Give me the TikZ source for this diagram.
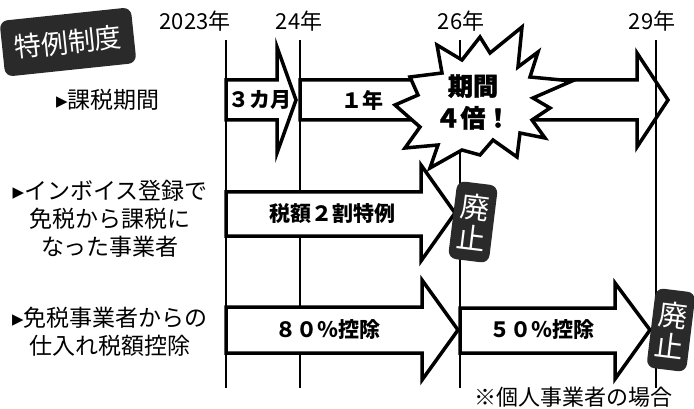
\documentclass[tikz,border=0pt]{standalone}
\usepackage{fontspec}
\setmainfont{Noto Sans CJK JP}
\newfontfamily\symfont{DejaVu Sans}
\definecolor{badgegray}{HTML}{2A2A2A}

\begin{document}
\begin{tikzpicture}[x=1pt,y=-1pt,
    yearlabel/.style={font=\fontsize{22}{22}\selectfont},
    timeline/.style={line width=1.5pt},
    bigarrow/.style={draw,fill=white,line width=3.5pt},
    arrowtext/.style={font=\bfseries\fontsize{21}{21}\selectfont},
    rowlabel/.style={align=center,font=\fontsize{23}{28}\selectfont},
    badge/.style={fill=badgegray,rounded corners=8pt,text=white,inner sep=0pt,align=center}]
  \useasboundingbox (0,0) rectangle (694,409);

  %% years
  \node[yearlabel] (y2023) at (195,21) {2023年};
  \node[yearlabel] (y24) at (299,21) {24年};
  \node[yearlabel] (y26) at (461,21) {26年};
  \node[yearlabel] (y29) at (652,21) {29年};

  \draw[timeline] (226,40) -- (226,388);
  \draw[timeline] (300,40) -- (300,388);
  \draw[timeline] (460,40) -- (460,388);

  %% badge
  \node[badge,rotate=6,minimum width=132,minimum height=56,
        font=\fontsize{27}{27}\selectfont] (tokurei) at (68,42) {特例制度};

  %% row labels
  \node[rowlabel] (kikan) at (108,100) {{\symfont ▸}課税期間};
  \node[rowlabel] (invoice) at (110,219) {{\symfont ▸}インボイス登録で\\免税から課税に\\なった事業者};
  \node[rowlabel] (koujo) at (110,332) {{\symfont ▸}免税事業者からの\\仕入れ税額控除};

  %% 課税期間
  \draw[bigarrow] (226,80) -- (277,80) -- (277,47) -- (296,100) -- (277,153)
    -- (277,120) -- (226,120) -- cycle;
  \draw[bigarrow] (300,80) -- (637,80) -- (637,53) -- (668,100) -- (637,147)
    -- (637,120) -- (300,120) -- cycle;
  \node[arrowtext] (sankagetsu) at (260,100) {３カ月};
  \node[arrowtext] (ichinen) at (362,100) {１年};

  %% 2割特例
  \draw[bigarrow] (226,192) -- (421,192) -- (421,165) -- (455,213) -- (421,261)
    -- (421,236) -- (226,236) -- cycle;
  \node[arrowtext] (niwari) at (332,214) {税額２割特例};

  %% 控除
  \draw[bigarrow] (226,307) -- (422,307) -- (422,280) -- (458,330) -- (422,380)
    -- (422,353) -- (226,353) -- cycle;
  \draw[bigarrow] (460,308) -- (615,308) -- (615,283) -- (650,330) -- (615,379)
    -- (615,353) -- (460,353) -- cycle;
  \node[arrowtext] (hachiwari) at (328,330) {８０％控除};
  \node[arrowtext] (gowari) at (542,330) {５０％控除};

  \draw[timeline] (656,40) -- (656,388);

  %% starburst
  \draw[bigarrow,miter limit=20] (437,45) -- (462,60) -- (480,37) -- (490,53) -- (522,27)
    -- (518,67) -- (538,52) -- (530,77) -- (572,81) -- (533,98) -- (550,108)
    -- (532,120) -- (545,138) -- (520,133) -- (517,157) -- (493,140) -- (480,155)
    -- (462,150) -- (430,168) -- (438,145) -- (405,148) -- (420,127) -- (395,105)
    -- (418,95) -- (410,77) -- (442,73) -- cycle;
  \node[align=center,font=\bfseries\addfontfeatures{FakeBold=1.5}\fontsize{25}{32}\selectfont]
    (yonbai) at (473,102) {期間\\４倍！};

  %% 廃止
  \node[badge,rotate=-7,minimum width=41,minimum height=78,
        font=\fontsize{29}{32}\selectfont] (haishi1) at (473,222) {廃\\止};
  \node[badge,rotate=-7,minimum width=40,minimum height=80,
        font=\fontsize{29}{32}\selectfont] (haishi2) at (671,330) {廃\\止};

  \node[font=\fontsize{22}{22}\selectfont] (kojin) at (573,397) {※個人事業者の場合};
\end{tikzpicture}
\end{document}
